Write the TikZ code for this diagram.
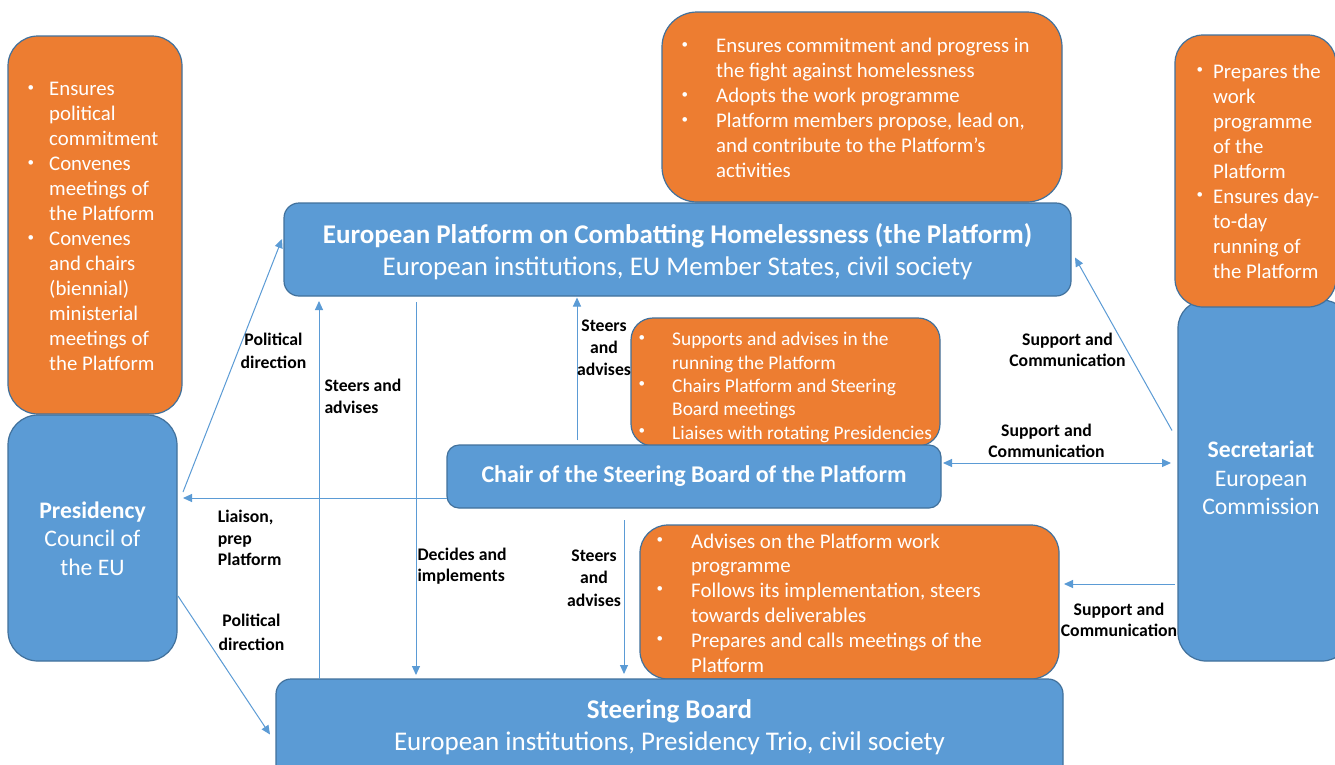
\documentclass[tikz,border=0pt]{standalone}
\usepackage{fontspec}
\setmainfont{Carlito}
\usetikzlibrary{arrows.meta,calc}
\definecolor{boxblue}{HTML}{5B9BD5}
\definecolor{boxorange}{HTML}{ED7D31}
\definecolor{edgeblue}{HTML}{41719C}
\newcommand\fsz[2]{\fontsize{#1}{#2}\selectfont}
\newcommand\bul[1]{\makebox[#1][l]{\hspace{1.5pt}\raisebox{4.8pt}{\fontsize{13}{13}\selectfont\textbullet}}}
\tikzset{
  bbox/.style={draw=edgeblue, line width=1.2pt, fill=boxblue, inner sep=0pt, outer sep=0pt},
  obox/.style={draw=edgeblue, line width=1.2pt, fill=boxorange, inner sep=0pt, outer sep=0pt},
  wtxt/.style={text=white, inner sep=0pt},
  lbl/.style={text=black, inner sep=0pt, anchor=north},
  lbll/.style={text=black, inner sep=0pt, anchor=north west},
  arr/.style={draw=boxblue, line width=1pt, -{Triangle[length=9pt,width=8pt]}},
  darr/.style={draw=boxblue, line width=1pt, {Triangle[length=9pt,width=8pt]}-{Triangle[length=9pt,width=8pt]}}
}
\begin{document}
\begin{tikzpicture}[x=1pt,y=-1pt]
\fill[white] (0,0) rectangle (1335,764);
\useasboundingbox (0,0) rectangle (1335,764);

% boxes
\node[bbox, rounded corners=30pt, minimum width=169pt, minimum height=246pt] (presB) at (92.5,538) {};
\node[obox, rounded corners=30pt, minimum width=174pt, minimum height=378pt] (presO) at (95,225) {};
\node[bbox, rounded corners=28pt, minimum width=172pt, minimum height=361pt] (secB) at (1264,480.5) {};
\node[obox, rounded corners=28pt, minimum width=161pt, minimum height=272pt] (secO) at (1255.5,171) {};
\node[obox, rounded corners=35pt, minimum width=400pt, minimum height=190pt] (topO) at (862,107) {};
\node[bbox, rounded corners=15pt, minimum width=787pt, minimum height=93pt] (platB) at (677.5,249.5) {};
\node[obox, rounded corners=22pt, minimum width=309pt, minimum height=128pt] (midO) at (785.5,382) {};
\node[bbox, rounded corners=12pt, minimum width=494pt, minimum height=63pt] (chairB) at (694,476.5) {};
\node[obox, rounded corners=28pt, minimum width=419pt, minimum height=154pt] (botO) at (849.5,602) {};
\node[bbox, rounded corners=15pt, minimum width=787pt, minimum height=111pt] (steerB) at (669.5,734.5) {};

% box texts
\node[wtxt, anchor=north, font=\fsz{23.7}{28.7}] (presT) at (92.5,497.9)
  {\begin{tabular}{@{}c@{}}\bfseries Presidency\\Council of\\the EU\end{tabular}};
\node[wtxt, anchor=north, font=\fsz{23.7}{28.3}] (secT) at (1261,437.9)
  {\begin{tabular}{@{}c@{}}\bfseries Secretariat\\European\\Commission\end{tabular}};
\node[wtxt, anchor=north, font=\fsz{27}{31.5}] (platT) at (677.5,221.45)
  {\begin{tabular}{@{}c@{}}\bfseries European Platform on Combatting Homelessness (the Platform)\\European institutions, EU Member States, civil society\end{tabular}};
\node[wtxt, anchor=north, font=\fsz{24}{28}\bfseries] (chairT) at (694,462.4)
  {\begin{tabular}{@{}c@{}}Chair of the Steering Board of the Platform\end{tabular}};
\node[wtxt, anchor=north, font=\fsz{27}{32}] (steerT) at (669.5,695.6)
  {\begin{tabular}{@{}c@{}}\bfseries Steering Board\\European institutions, Presidency Trio, civil society\end{tabular}};

% bullet lists
\node[wtxt, anchor=north west, font=\fsz{20.8}{25}] (presL) at (26,78.2)
  {\begin{tabular}{@{}l@{}l@{}}\bul{23pt}&Ensures\\&political\\&commitment\\
   \bul{23pt}&Convenes\\&meetings of\\&the Platform\\
   \bul{23pt}&Convenes\\&and chairs\\&(biennial)\\&ministerial\\&meetings of\\&the Platform\end{tabular}};
\node[wtxt, anchor=north west, font=\fsz{20.8}{25}] (topL) at (680,35.2)
  {\begin{tabular}{@{}l@{}l@{}}\bul{36pt}&Ensures commitment and progress in\\&the fight against homelessness\\
   \bul{36pt}&Adopts the work programme\\
   \bul{36pt}&Platform members propose, lead on,\\&and contribute to the Platform’s\\&activities\end{tabular}};
\node[wtxt, anchor=north west, font=\fsz{20.8}{25}] (secL) at (1195,60.8)
  {\begin{tabular}{@{}l@{}l@{}}\bul{18pt}&Prepares the\\&work\\&programme\\&of the\\&Platform\\
   \bul{18pt}&Ensures day-\\&to-day\\&running of\\&the Platform\end{tabular}};
\node[wtxt, anchor=north west, font=\fsz{19.4}{23.3}] (midL) at (637,329.4)
  {\begin{tabular}{@{}l@{}l@{}}\bul{35pt}&Supports and advises in the\\&running the Platform\\
   \bul{35pt}&Chairs Platform and Steering\\&Board meetings\\
   \bul{35pt}&Liaises with rotating Presidencies\end{tabular}};
\node[wtxt, anchor=north west, font=\fsz{20.9}{24.8}] (botL) at (655,530.6)
  {\begin{tabular}{@{}l@{}l@{}}\bul{36pt}&Advises on the Platform work\\&programme\\
   \bul{36pt}&Follows its implementation, steers\\&towards deliverables\\
   \bul{36pt}&Prepares and calls meetings of the\\&Platform\end{tabular}};

% connectors
\draw[arr] ($(presB.east)+(6,-46)$) -- ($(platB.west)+(-2,-10.5)$);
\draw[arr] ($(presB.east)+(1,58)$) -- ($(steerB.west)+(-6,0)$);
\draw[arr] ($(chairB.west)+(0,21.5)$) -- ($(presB.east)+(6,-40)$);
\draw[arr] ($(steerB.north west)+(43,0)$) -- ($(platB.south west)+(35,5)$);
\draw[arr] ($(platB.south west)+(132,6)$) -- ($(steerB.north west)+(140,-4)$);
\draw[arr] ($(chairB.north west)+(130,-5)$) -- ($(platB.south west)+(293,1.5)$);
\draw[arr] ($(chairB.south west)+(177,12)$) -- ($(steerB.north west)+(348,-5)$);
\draw[arr] ($(secB.west)+(-6,-50)$) -- ($(platB.east)+(4,8)$);
\draw[darr] ($(chairB.east)+(2,-13.5)$) -- ($(secB.west)+(-7,-17.5)$);
\draw[arr] ($(secB.west)+(-3,103.5)$) -- ($(botO.east)+(5,-18)$);

% connector labels
\node[lbl, font=\fsz{17.7}{23.3}\bfseries] (l1) at (273.5,328.7) {\begin{tabular}{@{}c@{}}Political\\direction\end{tabular}};
\node[lbl, font=\fsz{17.7}{24}\bfseries] (l2) at (251.5,609.9) {\begin{tabular}{@{}c@{}}Political\\direction\end{tabular}};
\node[lbll, font=\fsz{17.7}{21.6}\bfseries] (l3) at (324.3,376.6) {\begin{tabular}{@{}l@{}}Steers and\\advises\end{tabular}};
\node[lbll, font=\fsz{17.7}{21.3}\bfseries] (l4) at (217.7,507.8) {\begin{tabular}{@{}l@{}}Liaison,\\prep\\Platform\end{tabular}};
\node[lbll, font=\fsz{17.7}{21}\bfseries] (l5) at (417.3,546) {\begin{tabular}{@{}l@{}}Decides and\\implements\end{tabular}};
\node[lbl, font=\fsz{17.7}{22}\bfseries] (l6) at (604,315.6) {\begin{tabular}{@{}c@{}}Steers\\and\\advises\end{tabular}};
\node[lbl, font=\fsz{17.7}{22.5}\bfseries] (l7) at (594,545.25) {\begin{tabular}{@{}c@{}}Steers\\and\\advises\end{tabular}};
\node[lbl, font=\fsz{17.7}{21.7}\bfseries] (l8) at (1067.5,329.8) {\begin{tabular}{@{}c@{}}Support and\\Communication\end{tabular}};
\node[lbl, font=\fsz{17.7}{21}\bfseries] (l9) at (1046.5,422) {\begin{tabular}{@{}c@{}}Support and\\Communication\end{tabular}};
\node[lbl, font=\fsz{17.7}{21.7}\bfseries] (l10) at (1119,599.8) {\begin{tabular}{@{}c@{}}Support and\\Communication\end{tabular}};
\end{tikzpicture}
\end{document}
